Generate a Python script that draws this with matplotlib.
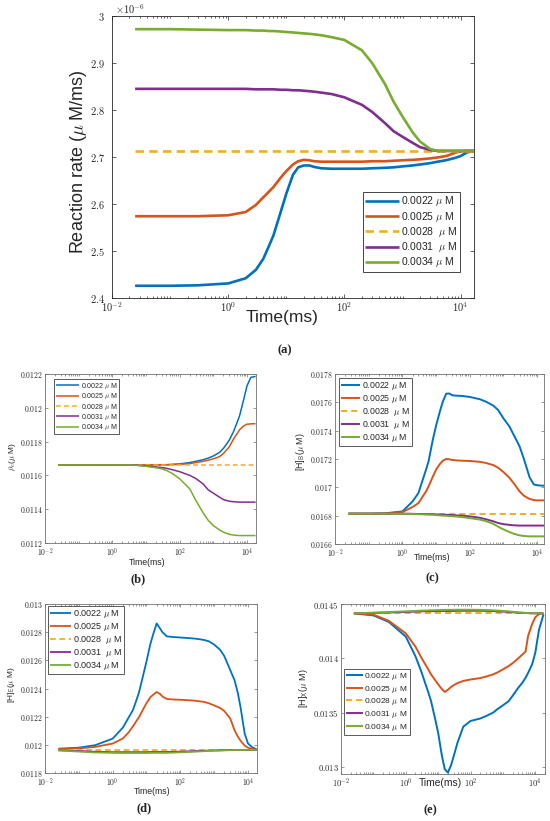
import numpy as np
import matplotlib
matplotlib.use('Agg')
import matplotlib.pyplot as plt
from matplotlib.ticker import FixedLocator, LogLocator, FuncFormatter, NullFormatter

plt.rcParams['font.family'] = ['Liberation Sans', 'DejaVu Sans']
plt.rcParams['mathtext.fontset'] = 'cm'

# ---------------- data ----------------
T = [0.025, 0.1, 0.3, 1, 2, 3, 4, 5, 6, 8, 10, 13, 16, 20, 25, 30, 40, 60, 100,
     200, 300, 500, 700, 1000, 1500, 2000, 3000, 4000, 5000, 6000, 8000, 10000,
     13000, 18000]

LABELS = ['0.0022 $\\mu$ M', '0.0025 $\\mu$ M', '0.0028  $\\mu$ M',
          '0.0031  $\\mu$ M', '0.0034 $\\mu$ M']
LABELS_SINGLE = ['0.0022 $\\mu$ M', '0.0025 $\\mu$ M', '0.0028 $\\mu$ M',
                 '0.0031 $\\mu$ M', '0.0034 $\\mu$ M']

# (a) reaction rate, in units of 1e-6 uM/ms
RATE_022 = [2.426, 2.426, 2.427, 2.431, 2.442, 2.460, 2.483, 2.510, 2.533, 2.583, 2.622,
            2.662, 2.678, 2.682, 2.682, 2.679, 2.676, 2.675, 2.675, 2.675, 2.676, 2.677,
            2.678, 2.680, 2.682, 2.684, 2.687, 2.690, 2.692, 2.694, 2.698, 2.702, 2.710, 2.713]
RATE_025 = [2.574, 2.574, 2.574, 2.576, 2.583, 2.598, 2.614, 2.626, 2.636, 2.656, 2.670,
            2.684, 2.691, 2.694, 2.693, 2.691, 2.690, 2.690, 2.690, 2.690, 2.691, 2.691,
            2.692, 2.693, 2.694, 2.695, 2.697, 2.699, 2.701, 2.703, 2.709, 2.712, 2.713, 2.713]
RATE_028 = [2.713] * 34
RATE_031 = [2.845, 2.845, 2.845, 2.845, 2.845, 2.844, 2.844, 2.844, 2.844, 2.843, 2.843,
            2.842, 2.842, 2.841, 2.840, 2.839, 2.837, 2.834, 2.827, 2.811, 2.796, 2.772,
            2.755, 2.743, 2.730, 2.721, 2.715, 2.713, 2.713, 2.713, 2.713, 2.713, 2.713, 2.713]
RATE_034 = [2.972, 2.972, 2.971, 2.970, 2.970, 2.969, 2.969, 2.968, 2.968, 2.967, 2.966,
            2.965, 2.964, 2.963, 2.962, 2.961, 2.959, 2.955, 2.949, 2.927, 2.900, 2.855,
            2.818, 2.786, 2.752, 2.733, 2.717, 2.713, 2.713, 2.713, 2.713, 2.713, 2.713, 2.713]
RATE_SCALE_EXP = -6

# (b) rho_e
RHO_022 = [0.011662] * 11 + [0.011663] * 6 + [0.011665, 0.011668, 0.011676, 0.011683,
           0.011693, 0.011702, 0.011715, 0.011735, 0.01176, 0.01181, 0.01186, 0.01191,
           0.011952, 0.01205, 0.01213, 0.01218, 0.012186]
RHO_025 = [0.011662] * 11 + [0.011663] * 6 + [0.011664, 0.011665, 0.01167, 0.011676,
           0.011683, 0.01169, 0.011698, 0.01171, 0.01173, 0.01177, 0.011816, 0.011845,
           0.01187, 0.011893, 0.011903, 0.011905, 0.011906]
RHO_028 = [0.011662] * 34
RHO_031 = [0.011662, 0.011662, 0.011662, 0.011662, 0.011662, 0.011662, 0.011661, 0.011661,
           0.011659, 0.011657, 0.011656, 0.011654, 0.011652, 0.01165, 0.011648, 0.011646,
           0.011642, 0.011634, 0.011622, 0.0116, 0.011582, 0.011549, 0.011515, 0.011495,
           0.011472, 0.011457, 0.011447, 0.011444, 0.011443, 0.011442, 0.011442, 0.011442,
           0.011442, 0.011442]
RHO_034 = [0.011662] * 6 + [0.011661, 0.01166, 0.011659, 0.011656, 0.011654, 0.01165,
           0.011648, 0.011645, 0.011642, 0.011638, 0.01163, 0.011612, 0.01158, 0.01152,
           0.011453, 0.011378, 0.011335, 0.011303, 0.011278, 0.011264, 0.011251, 0.011247,
           0.011245, 0.011244, 0.011244, 0.011244, 0.011244, 0.011244]

# (c) [H]_B
HB_022 = [0.016814, 0.016814, 0.016816, 0.01683, 0.0169, 0.01696, 0.017052, 0.017122,
          0.017184, 0.017336, 0.017435, 0.017536, 0.017607, 0.017661, 0.017662, 0.01765,
          0.017647, 0.017645, 0.017638, 0.017622, 0.017605, 0.017577, 0.017545, 0.017487,
          0.01743, 0.017372, 0.01729, 0.017205, 0.01713, 0.01707, 0.01702, 0.017015,
          0.017012, 0.017012]
HB_025 = [0.016814, 0.016814, 0.016815, 0.016825, 0.016861, 0.016889, 0.016935, 0.01697,
          0.017007, 0.017075, 0.017125, 0.017165, 0.017188, 0.0172, 0.017198, 0.017193,
          0.01719, 0.017188, 0.017186, 0.01718, 0.017172, 0.017157, 0.017138, 0.017108,
          0.017068, 0.01703, 0.016972, 0.016942, 0.016928, 0.016918, 0.01691, 0.016908,
          0.016908, 0.016908]
HB_028 = [0.016814] * 34
HB_031 = [0.016814] * 4 + [0.016813, 0.016812, 0.016812, 0.016811, 0.016811, 0.01681,
          0.016809, 0.016808, 0.016807, 0.016806, 0.016805, 0.016804, 0.016802, 0.0168,
          0.016795, 0.016785, 0.016775, 0.01676, 0.016748, 0.01674, 0.016735, 0.016732,
          0.01673] + [0.01673] * 7
HB_034 = [0.016814] * 4 + [0.016812, 0.01681, 0.016809, 0.016808, 0.016807, 0.016806,
          0.016804, 0.016802, 0.0168, 0.016799, 0.016797, 0.016796, 0.016794, 0.01679,
          0.016783, 0.016772, 0.016762, 0.016742, 0.016722, 0.016703, 0.016685, 0.016673,
          0.016661, 0.016657, 0.016655] + [0.016654] * 5

# (d) [H]_E
HE_022 = [0.011972, 0.01198, 0.011997, 0.012044, 0.012122, 0.012196, 0.012248, 0.012315,
          0.012372, 0.012495, 0.012592, 0.012715, 0.01279, 0.012862, 0.012827, 0.012798,
          0.01277, 0.012766, 0.012762, 0.012757, 0.012753, 0.012745, 0.012735, 0.012712,
          0.012675, 0.01263, 0.01253, 0.01246, 0.01237, 0.01227, 0.01208, 0.01201,
          0.011985, 0.011967]
HE_025 = [0.011972, 0.011975, 0.011985, 0.012009, 0.012045, 0.01209, 0.012132, 0.012168,
          0.012196, 0.012253, 0.012296, 0.012338, 0.012357, 0.012375, 0.012362, 0.012342,
          0.012326, 0.012322, 0.01232, 0.012316, 0.012312, 0.012305, 0.012295, 0.01228,
          0.012262, 0.01224, 0.012187, 0.012104, 0.012059, 0.01203, 0.011995, 0.01198,
          0.01197, 0.011966]
HE_028 = [0.011964] * 34
HE_031 = [0.011962, 0.011956, 0.011951] + [0.011948] * 8 + [0.011949] * 6 + [0.01195,
          0.011952, 0.011954, 0.011956, 0.011958, 0.011959, 0.01196, 0.011961, 0.011962,
          0.011963, 0.011963] + [0.011964] * 6
HE_034 = [0.01196, 0.011952, 0.011946, 0.011943, 0.011942] + [0.011942] * 6 + \
         [0.011943] * 6 + [0.011945, 0.011947, 0.01195, 0.011952, 0.011955, 0.011957,
          0.011959, 0.01196, 0.011961, 0.011962, 0.011963] + [0.011964] * 6

# (e) [H]_X
HX_022 = [0.014414, 0.014395, 0.014335, 0.0142, 0.014018, 0.01388, 0.01377, 0.013684,
          0.01361, 0.013448, 0.013316, 0.013107, 0.01298, 0.012948, 0.013015, 0.013095,
          0.013227, 0.013371, 0.013423, 0.013446, 0.013468, 0.0135, 0.013535, 0.013567,
          0.013605, 0.013655, 0.01373, 0.013775, 0.01382, 0.013865, 0.013945, 0.01405,
          0.01426, 0.014405]
HX_025 = [0.014414, 0.014402, 0.014345, 0.01423, 0.014107, 0.014009, 0.013945, 0.013896,
          0.013853, 0.013801, 0.013761, 0.013718, 0.01369, 0.01371, 0.013736, 0.013752,
          0.013772, 0.013792, 0.013805, 0.013818, 0.013832, 0.013852, 0.013872, 0.013898,
          0.013928, 0.013955, 0.014, 0.014035, 0.014061, 0.014205, 0.014316, 0.014377,
          0.014408, 0.014412]
HX_028 = [0.014414] * 34
HX_031 = [0.014414, 0.014418, 0.014422, 0.014427, 0.01443, 0.014432, 0.014434, 0.014434,
          0.014434, 0.014434, 0.014436, 0.014436, 0.014436, 0.014436, 0.014436, 0.014436,
          0.014438, 0.014438, 0.014438, 0.014438, 0.014437, 0.014435, 0.014432, 0.01443,
          0.014427, 0.014424, 0.01442, 0.014418, 0.014417, 0.014416, 0.014414, 0.014414,
          0.014414, 0.014414]
HX_034 = [0.014414, 0.01442, 0.014426, 0.014432, 0.014436, 0.014439, 0.01444, 0.014441,
          0.014442, 0.014443, 0.014444, 0.014445, 0.014445, 0.014446, 0.014446, 0.014446,
          0.014447, 0.014447, 0.014447, 0.014446, 0.014445, 0.014442, 0.014439, 0.014436,
          0.014432, 0.014428, 0.014423, 0.01442, 0.014418, 0.014417, 0.014415, 0.014414,
          0.014414, 0.014414]

# ---------------- style ----------------
COLORS = ['#0072BD', '#D95319', '#EDB120', '#7E2F8E', '#77AC30']
W, H = 550, 821
fig = plt.figure(figsize=(W / 100, H / 100), dpi=100)


def px_rect(l, r, t, b):
    return [l / W, 1 - b / H, (r - l) / W, (b - t) / H]


def make_panel(rect, series, labels, xmax, ylim, yticks, lw, tick_fs, frame,
               mlen, nlen, ypad, xpad):
    ax = fig.add_axes(rect)
    lines = []
    for i, ys in enumerate(series):
        ls = (0, (3.2, 2.0)) if i == 2 else '-'
        ln, = ax.plot(T, ys, color=COLORS[i], lw=lw, linestyle=ls, label=labels[i],
                      solid_capstyle='butt', solid_joinstyle='round')
        lines.append(ln)
    ax.set_xscale('log')
    ax.set_xlim(1e-2, xmax)
    ax.set_ylim(*ylim)
    ax.xaxis.set_major_locator(FixedLocator([1e-2, 1e0, 1e2, 1e4]))
    ax.xaxis.set_minor_locator(LogLocator(base=10, subs=np.arange(1, 10), numticks=100))
    ax.xaxis.set_major_formatter(FuncFormatter(lambda v, p: r'$10^{%d}$' % round(np.log10(v))))
    ax.xaxis.set_minor_formatter(NullFormatter())
    ax.yaxis.set_major_locator(FixedLocator(yticks))
    ax.yaxis.set_major_formatter(FuncFormatter(lambda v, p: '$%s$' % ('%g' % round(v, 7))))
    ax.tick_params(which='both', direction='in', top=True, right=True, color=frame,
                   labelcolor='#262626', labelsize=tick_fs, width=0.5)
    ax.tick_params(which='major', length=mlen)
    ax.tick_params(which='minor', length=nlen)
    ax.tick_params(axis='y', pad=ypad)
    ax.tick_params(axis='x', pad=xpad)
    for sp in ax.spines.values():
        sp.set_color(frame)
        sp.set_linewidth(0.6)
    return ax, lines


def set_labels(ax, xl, xpos, xfs, yl, ypos, yfs):
    ax.set_xlabel(xl, fontsize=xfs, color='#262626')
    ax.xaxis.set_label_coords(*xpos)
    ax.xaxis.label.set_va('center')
    ax.set_ylabel(yl, fontsize=yfs, color='#262626')
    ax.yaxis.set_label_coords(*ypos)
    ax.yaxis.label.set_va('center')


def add_legend(ax, lines, loc, anchor, fs, hl, ls, edge):
    leg = ax.legend(handles=lines, loc=loc, bbox_to_anchor=anchor, fontsize=fs,
                    frameon=True, fancybox=False, framealpha=1, edgecolor=edge,
                    borderaxespad=0, handlelength=hl, handletextpad=0.2,
                    labelspacing=ls, borderpad=0.25)
    leg.get_frame().set_linewidth(0.6)
    for t in leg.get_texts():
        t.set_color('#262626')
    return leg


# (a)
axA, lA = make_panel(px_rect(112, 474, 16, 298),
                     [RATE_022, RATE_025, RATE_028, RATE_031, RATE_034], LABELS,
                     1.7e4, (2.4, 3.0), [2.4, 2.5, 2.6, 2.7, 2.8, 2.9, 3.0],
                     1.9, 7.5, '#262626', 3.0, 1.6, 5, 2)
set_labels(axA, 'Time(ms)', (0.47, -0.068), 12.5,
           'Reaction rate ($\\mu$ M/ms)', (-0.092, 0.485), 13)
add_legend(axA, lA, 'lower right', (0.961, 0.092), 7.5, 3.2, 0.12, '#262626')
fig.text(115 / W, 1 - 9 / H, '$\\times10^{%d}$' % RATE_SCALE_EXP, fontsize=7.5,
         ha='left', va='center', color='#262626')

# (b)
axB, lB = make_panel(px_rect(45, 256, 374, 543),
                     [RHO_022, RHO_025, RHO_028, RHO_031, RHO_034], LABELS_SINGLE,
                     1.85e4, (0.0112, 0.0122),
                     [0.0112, 0.0114, 0.0116, 0.0118, 0.012, 0.0122],
                     1.1, 5.5, '#707070', 2.0, 1.1, 1.5, 2)
set_labels(axB, 'Time(ms)', (0.483, -0.118), 6.3,
           '$\\rho_e$($\\mu$ M)', (-0.156, 0.51), 6)
add_legend(axB, lB, 'upper left', (0.043, 0.97), 5, 3.4, 0.05, '#404040')

# (c)
axC, lC = make_panel(px_rect(335, 544, 374, 544),
                     [HB_022, HB_025, HB_028, HB_031, HB_034], LABELS,
                     1.6e4, (0.0166, 0.0178),
                     [0.0166, 0.0168, 0.017, 0.0172, 0.0174, 0.0176, 0.0178],
                     1.4, 5.5, '#707070', 2.0, 1.1, 1.5, 2)
set_labels(axC, 'Time(ms)', (0.464, -0.082), 6.3,
           '[H]$_{\\mathsf{B}}$($\\mu$ M)', (-0.167, 0.54), 6.3)
add_legend(axC, lC, 'upper left', (0.019, 0.976), 6.3, 2.2, 0.1, '#404040')

# (d)
axD, lD = make_panel(px_rect(45, 257, 604, 773),
                     [HE_022, HE_025, HE_028, HE_031, HE_034], LABELS,
                     1.85e4, (0.0118, 0.013),
                     [0.0118, 0.012, 0.0122, 0.0124, 0.0126, 0.0128, 0.013],
                     1.3, 5.5, '#707070', 2.0, 1.1, 1.5, 2)
set_labels(axD, 'Time(ms)', (0.505, -0.112), 6.3,
           '[H]$_{\\mathsf{E}}$($\\mu$ M)', (-0.16, 0.52), 6)
add_legend(axD, lD, 'upper left', (0.014, 0.988), 6.5, 2.3, 0.1, '#404040')

# (e)
axE, lE = make_panel(px_rect(341, 545, 604, 774),
                     [HX_022, HX_025, HX_028, HX_031, HX_034], LABELS_SINGLE,
                     2.0e4, (0.012935, 0.0145),
                     [0.013, 0.0135, 0.014, 0.0145],
                     1.4, 6.2, '#707070', 2.0, 1.1, 1.5, 2)
set_labels(axE, 'Time(ms)', (0.488, -0.053), 7.4,
           '[H]$_{\\mathsf{X}}$($\\mu$ M)', (-0.186, 0.506), 6.5)
add_legend(axE, lE, 'upper left', (0.015, 0.618), 6.0, 2.0, 0.2, '#404040')

# captions
for txt, x, y in [('(a)', 285, 350), ('(b)', 138, 579), ('(c)', 432, 578),
                  ('(d)', 144, 808), ('(e)', 430, 810)]:
    fig.text(x / W, 1 - y / H, txt, ha='center', va='center', fontsize=9,
             fontfamily='Liberation Serif', fontweight='bold', color='#222222')

fig.savefig('out.png', dpi=100)
